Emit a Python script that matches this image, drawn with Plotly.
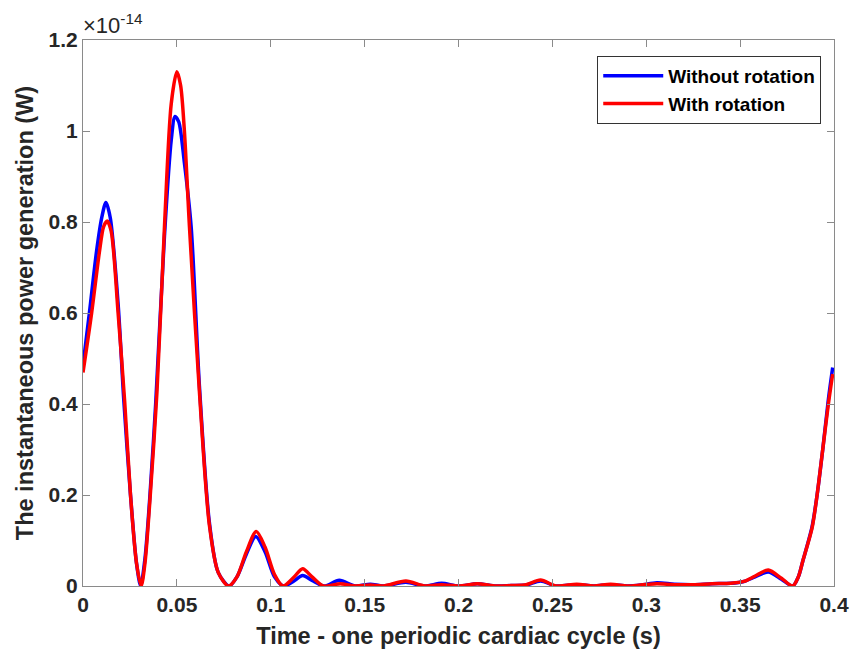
import plotly.graph_objects as go

# Time (s) and power (in units of 1e-14 W)
t_without = [0, 0.0034, 0.0072, 0.0100, 0.0122, 0.0145, 0.0187, 0.0217, 0.0253, 0.0285, 0.0307,
             0.0330, 0.0355, 0.0387, 0.0434, 0.0470, 0.0490, 0.0510, 0.0540, 0.0576, 0.0620,
             0.0673, 0.0720, 0.0778, 0.0820, 0.0870, 0.0920, 0.0970, 0.1020, 0.1068, 0.1120,
             0.1170, 0.1220, 0.1285, 0.1365, 0.1450, 0.1530, 0.1600, 0.1720, 0.1820, 0.1910,
             0.2000, 0.2100, 0.2200, 0.2280, 0.2360, 0.2437, 0.2520, 0.2630, 0.2720, 0.2810,
             0.2900, 0.2970, 0.3057, 0.3150, 0.3250, 0.3350, 0.3450, 0.3520, 0.3580, 0.3650,
             0.3720, 0.3780, 0.3810, 0.3834, 0.3883, 0.3910, 0.3940, 0.3970, 0.3993]
p_without = [0.485, 0.600, 0.735, 0.810, 0.843, 0.810, 0.620, 0.410, 0.200, 0.050, 0.000,
             0.060, 0.190, 0.400, 0.770, 0.980, 1.032, 1.020, 0.930, 0.790, 0.440,
             0.140, 0.030, 0.000, 0.020, 0.070, 0.109, 0.075, 0.020, 0.000, 0.010,
             0.023, 0.012, 0.000, 0.0125, 0.000, 0.004, 0.000, 0.008, 0.000, 0.006,
             0.000, 0.005, 0.000, 0.001, 0.002, 0.011, 0.000, 0.003, 0.000, 0.003,
             0.000, 0.002, 0.007, 0.004, 0.003, 0.005, 0.006, 0.010, 0.020, 0.031,
             0.015, 0.000, 0.020, 0.055, 0.130, 0.200, 0.300, 0.410, 0.480]

t_with = [0, 0.0046, 0.0087, 0.0110, 0.0129, 0.0150, 0.0187, 0.0222, 0.0253, 0.0285, 0.0310,
          0.0330, 0.0355, 0.0394, 0.0434, 0.0470, 0.0500, 0.0520, 0.0540, 0.0567, 0.0620,
          0.0673, 0.0720, 0.0775, 0.0820, 0.0870, 0.0923, 0.0970, 0.1020, 0.1065, 0.1120,
          0.1170, 0.1220, 0.1280, 0.1370, 0.1450, 0.1530, 0.1600, 0.1720, 0.1820, 0.1910,
          0.2000, 0.2100, 0.2200, 0.2280, 0.2360, 0.2437, 0.2520, 0.2630, 0.2720, 0.2810,
          0.2900, 0.2970, 0.3057, 0.3150, 0.3250, 0.3350, 0.3450, 0.3520, 0.3580, 0.3650,
          0.3720, 0.3780, 0.3810, 0.3834, 0.3883, 0.3910, 0.3940, 0.3970, 0.3993]
p_with = [0.469, 0.600, 0.733, 0.790, 0.802, 0.780, 0.600, 0.405, 0.200, 0.050, 0.000,
          0.050, 0.180, 0.427, 0.790, 1.060, 1.130, 1.100, 1.000, 0.790, 0.427,
          0.134, 0.030, 0.000, 0.020, 0.075, 0.120, 0.085, 0.025, 0.000, 0.018,
          0.038, 0.020, 0.000, 0.005, 0.000, 0.002, 0.000, 0.011, 0.000, 0.003,
          0.000, 0.005, 0.000, 0.001, 0.003, 0.013, 0.000, 0.004, 0.000, 0.004,
          0.000, 0.002, 0.005, 0.003, 0.003, 0.005, 0.006, 0.010, 0.022, 0.035,
          0.017, 0.000, 0.020, 0.055, 0.127, 0.200, 0.300, 0.400, 0.466]

x_ticks = [0, 0.05, 0.1, 0.15, 0.2, 0.25, 0.3, 0.35, 0.4]
x_ticktext = ["0", "0.05", "0.1", "0.15", "0.2", "0.25", "0.3", "0.35", "0.4"]
y_ticks = [0, 0.2, 0.4, 0.6, 0.8, 1.0, 1.2]
y_ticktext = ["0", "0.2", "0.4", "0.6", "0.8", "1", "1.2"]

FONT = "Liberation Sans, Arial, sans-serif"

fig = go.Figure()
fig.add_trace(go.Scatter(x=t_without, y=p_without, mode="lines", name="Without rotation",
                         line=dict(color="#0000FF", width=3.5, shape="spline", smoothing=0.8)))
fig.add_trace(go.Scatter(x=t_with, y=p_with, mode="lines", name="With rotation",
                         line=dict(color="#FF0000", width=3.5, shape="spline", smoothing=0.8)))

axis_common = dict(showline=True, linecolor="#8a8a8a", linewidth=1, mirror="ticks",
                   ticks="inside", ticklen=7, tickcolor="#8a8a8a", showgrid=False,
                   zeroline=False,
                   tickfont=dict(family=FONT, size=21, color="#262626", weight="bold"))

fig.update_xaxes(range=[0, 0.4], tickvals=x_ticks, ticktext=x_ticktext,
                 title=dict(text="Time - one periodic cardiac cycle (s)", standoff=12,
                            font=dict(family=FONT, size=23.5, color="#262626", weight="bold")),
                 **axis_common)
fig.update_yaxes(range=[0, 1.2], tickvals=y_ticks, ticktext=y_ticktext,
                 title=dict(text="The instantaneous power generation (W)", standoff=8,
                            font=dict(family=FONT, size=23.5, color="#262626", weight="bold")),
                 **axis_common)

fig.add_annotation(xref="paper", yref="paper", x=0, y=1.0, xanchor="left", yanchor="bottom",
                   text="×10<sup>-14</sup>", showarrow=False, yshift=0, xshift=-2,
                   font=dict(family=FONT, size=22, color="#262626"))

fig.update_layout(
    width=861, height=657,
    margin=dict(l=83, r=21, t=40, b=69),
    plot_bgcolor="white", paper_bgcolor="white",
    showlegend=True,
    legend=dict(x=0.983, y=0.971, xanchor="right", yanchor="top",
                bordercolor="#333333", borderwidth=1, bgcolor="white",
                font=dict(family=FONT, size=19, color="black", weight="bold"),
                tracegroupgap=0, itemwidth=60),
)

fig.write_html("out.html")
